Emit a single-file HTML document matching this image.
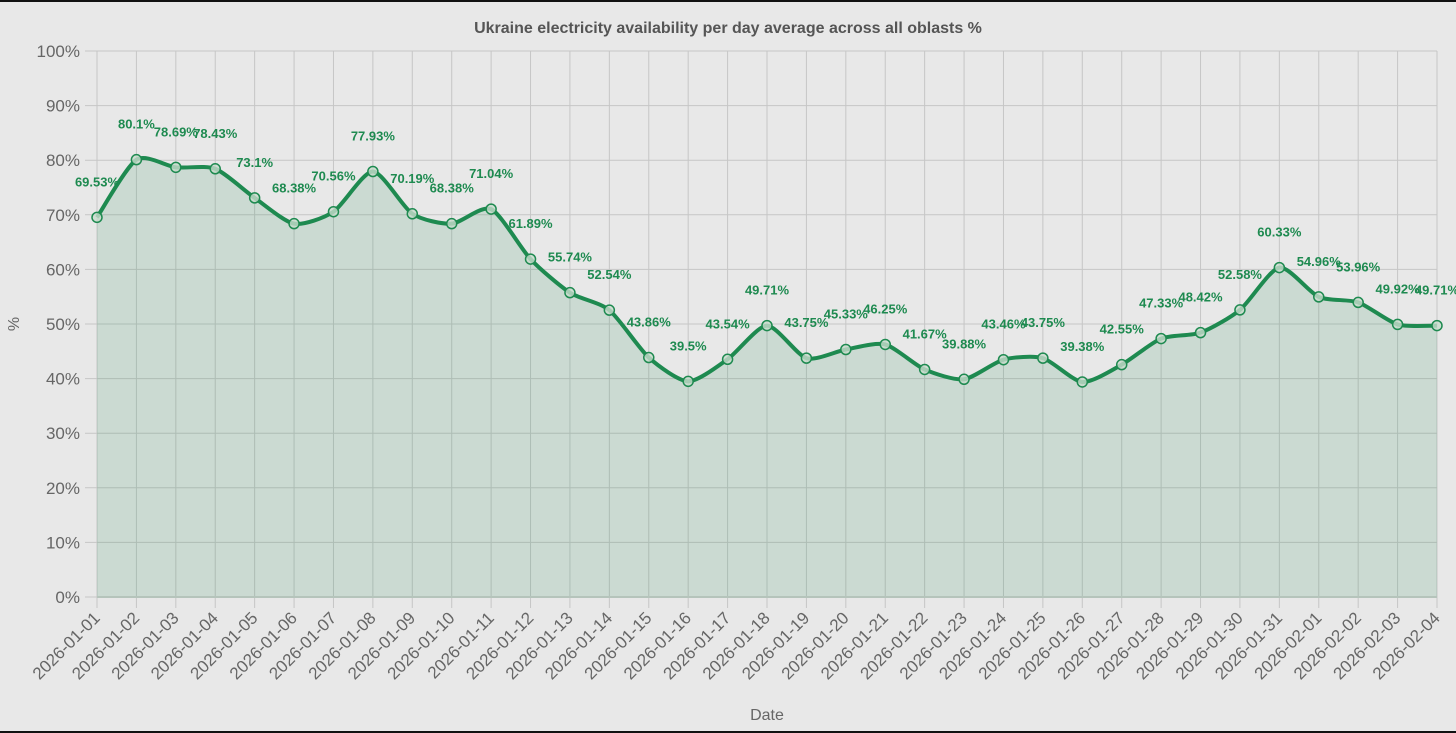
<!DOCTYPE html>
<html><head><meta charset="utf-8"><style>
html,body{margin:0;padding:0;background:#e8e8e8;}
body{width:1456px;height:733px;overflow:hidden;position:relative;font-family:"Liberation Sans",Arial,sans-serif;}
#topbar{position:absolute;left:0;top:0;width:1456px;height:2px;background:#111;}
#botbar{position:absolute;left:0;top:731px;width:1456px;height:2px;background:#111;}
</style></head><body>
<div id="topbar"></div>
<div id="botbar"></div>
<svg id="chart" width="1456" height="733" style="position:absolute;left:0;top:0"></svg>
<script>
const categories=["2026-01-01","2026-01-02","2026-01-03","2026-01-04","2026-01-05","2026-01-06","2026-01-07","2026-01-08","2026-01-09","2026-01-10","2026-01-11","2026-01-12","2026-01-13","2026-01-14","2026-01-15","2026-01-16","2026-01-17","2026-01-18","2026-01-19","2026-01-20","2026-01-21","2026-01-22","2026-01-23","2026-01-24","2026-01-25","2026-01-26","2026-01-27","2026-01-28","2026-01-29","2026-01-30","2026-01-31","2026-02-01","2026-02-02","2026-02-03","2026-02-04"];
const values=[69.53,80.1,78.69,78.43,73.1,68.38,70.56,77.93,70.19,68.38,71.04,61.89,55.74,52.54,43.86,39.5,43.54,49.71,43.75,45.33,46.25,41.67,39.88,43.46,43.75,39.38,42.55,47.33,48.42,52.58,60.33,54.96,53.96,49.92,49.71];
const yTicks=[0,10,20,30,40,50,60,70,80,90,100];
const NS="http://www.w3.org/2000/svg";
const svg=document.getElementById('chart');
const X0=97,X1=1437,Y0=597,Y1=51;
function xs(i){return X0+(X1-X0)*i/(categories.length-1);}
function ys(v){return Y0-(Y0-Y1)*v/100;}
function mk(t,a,parent){const e=document.createElementNS(NS,t);for(const k in a)e.setAttribute(k,a[k]);(parent||svg).appendChild(e);return e;}
let t=mk('text',{x:728,y:33,'text-anchor':'middle','font-size':16,'font-weight':'bold',fill:'#555'});
t.textContent='Ukraine electricity availability per day average across all oblasts %';


yTicks.forEach(v=>{
 const l=mk('line',{x1:85,x2:X1,y1:ys(v),y2:ys(v),stroke:'#c6c6c6','stroke-width':1});
 
 
 const tx=mk('text',{x:80,y:ys(v)+6,'text-anchor':'end','font-size':17,fill:'#666'});
 tx.textContent=v+'%';
 
 
});
categories.forEach((c,i)=>{
 const x=xs(i);
 const l=mk('line',{x1:x,x2:x,y1:Y1,y2:608,stroke:'#c6c6c6','stroke-width':1});
 
 
 const tx=mk('text',{x:x+4,y:619,'text-anchor':'end','font-size':17,fill:'#666',transform:`rotate(-45 ${x+4} 619)`});
 tx.textContent=c;
 
 
});
let yt=mk('text',{x:19,y:324,'text-anchor':'middle','font-size':16,fill:'#666',transform:'rotate(-90 19 324)'});
yt.textContent='%';


let xt=mk('text',{x:767,y:720,'text-anchor':'middle','font-size':16,fill:'#666'});
xt.textContent='Date';


const pts=values.map((v,i)=>[xs(i),ys(v)]);
const k=0.12;
let d=`M${pts[0][0]},${pts[0][1]}`;
for(let i=0;i<pts.length-1;i++){
 const p0=pts[Math.max(0,i-1)],p1=pts[i],p2=pts[i+1],p3=pts[Math.min(pts.length-1,i+2)];
 const c1=[p1[0]+(p2[0]-p0[0])*k,p1[1]+(p2[1]-p0[1])*k];
 const c2=[p2[0]-(p3[0]-p1[0])*k,p2[1]-(p3[1]-p1[1])*k];
 d+=` C${c1[0]},${c1[1]} ${c2[0]},${c2[1]} ${p2[0]},${p2[1]}`;
}
const area=mk('path',{d:d+` L${X1},${Y0} L${X0},${Y0} Z`,fill:'rgba(30,138,80,0.14)',stroke:'none'});


const base=mk('line',{x1:X0,x2:X1,y1:Y0,y2:Y0,stroke:'#b5c4bb','stroke-width':2});


const line=mk('path',{d:d,fill:'none',stroke:'#1e8a50','stroke-width':4,'stroke-linejoin':'round'});


pts.forEach((p,i)=>{
 const c=mk('circle',{cx:p[0],cy:p[1],r:5,fill:'rgba(200,220,205,0.8)',stroke:'#1e8a50','stroke-width':1.5});
 
 
 const lb=mk('text',{x:p[0],y:p[1]-31,'text-anchor':'middle','font-size':13,'font-weight':'bold',fill:'#1e8a50'});
 lb.textContent=values[i]+'%';
 
 
});
</script>
</body></html>
